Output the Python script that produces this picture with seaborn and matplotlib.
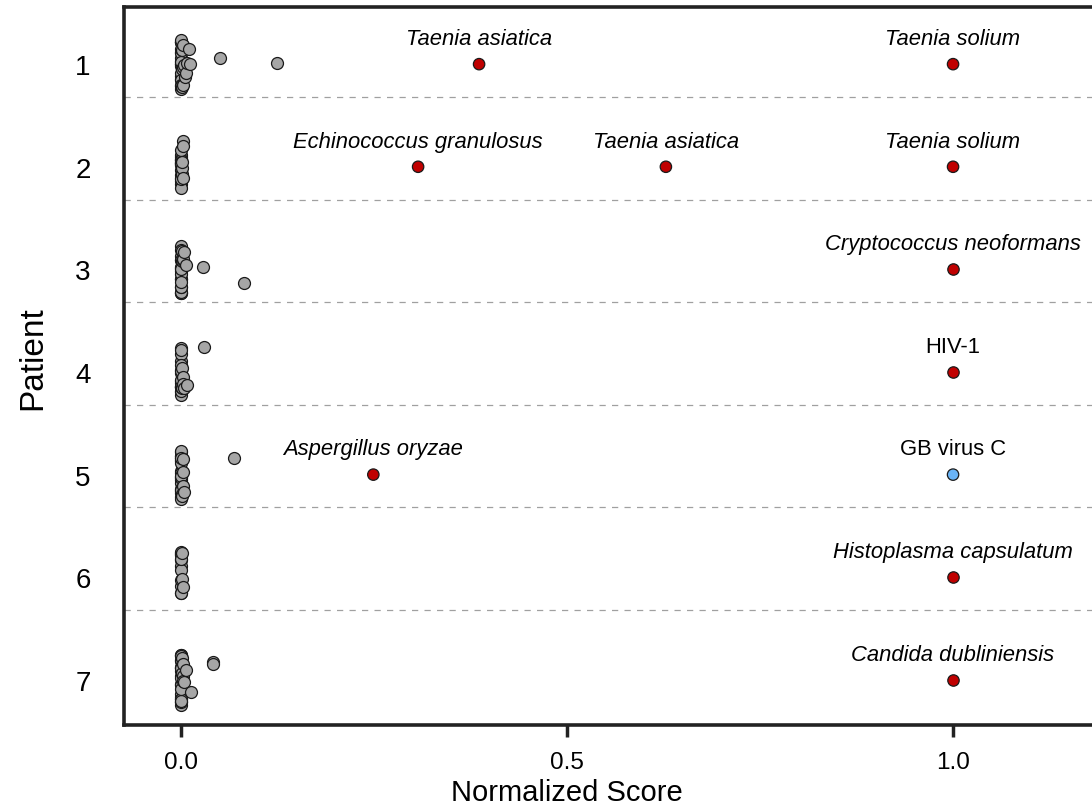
import numpy as np
import pandas as pd
import matplotlib
matplotlib.use("Agg")
import matplotlib.pyplot as plt
import seaborn as sns

# patients on the y axis
patients = ["1", "2", "3", "4", "5", "6", "7"]

# background (grey) scores per patient
bg_p1 = [0.0, 0.0, 0.0, 0.0, 0.0, 0.0, 0.0, 0.0, 0.0, 0.0, 0.0, 0.0, 0.0, 0.0, 0.0,
         0.0, 0.0, 0.0, 0.0, 0.0, 0.001, 0.001, 0.001, 0.002, 0.002, 0.003, 0.004,
         0.005, 0.006, 0.008, 0.010, 0.012, 0.050, 0.124]
bg_p2 = [0.0, 0.0, 0.0, 0.0, 0.0, 0.0, 0.0, 0.0, 0.0, 0.0, 0.0, 0.0, 0.0, 0.0, 0.0,
         0.0, 0.0, 0.0, 0.001, 0.001, 0.001, 0.002, 0.002, 0.003]
bg_p3 = [0.0, 0.0, 0.0, 0.0, 0.0, 0.0, 0.0, 0.0, 0.0, 0.0, 0.0, 0.0, 0.0, 0.0, 0.0,
         0.0, 0.0, 0.0, 0.001, 0.001, 0.002, 0.003, 0.004, 0.006, 0.028, 0.082]
bg_p4 = [0.0, 0.0, 0.0, 0.0, 0.0, 0.0, 0.0, 0.0, 0.0, 0.0, 0.0, 0.0, 0.0, 0.0, 0.0,
         0.0, 0.0, 0.0, 0.001, 0.001, 0.002, 0.003, 0.004, 0.008, 0.030]
bg_p5 = [0.0, 0.0, 0.0, 0.0, 0.0, 0.0, 0.0, 0.0, 0.0, 0.0, 0.0, 0.0, 0.0, 0.0, 0.0,
         0.0, 0.0, 0.0, 0.0, 0.0, 0.0, 0.0, 0.001, 0.001, 0.002, 0.002, 0.003,
         0.004, 0.069]
bg_p6 = [0.0, 0.0, 0.0, 0.0, 0.0, 0.0, 0.0, 0.0, 0.0, 0.0, 0.0, 0.0, 0.001, 0.001,
         0.002]
bg_p7 = [0.0, 0.0, 0.0, 0.0, 0.0, 0.0, 0.0, 0.0, 0.0, 0.0, 0.0, 0.0, 0.0, 0.0, 0.0,
         0.0, 0.0, 0.0, 0.0, 0.0, 0.0, 0.0, 0.001, 0.001, 0.002, 0.002, 0.003,
         0.004, 0.006, 0.013, 0.041, 0.041]
bg_scores = [bg_p1, bg_p2, bg_p3, bg_p4, bg_p5, bg_p6, bg_p7]

# highlighted hits
hit_patient = ["1", "1", "2", "2", "2", "3", "4", "5", "5", "6", "7"]
hit_score = [0.386, 1.0, 0.307, 0.628, 1.0, 1.0, 1.0, 0.249, 1.0, 1.0, 1.0]
hit_name = ["Taenia asiatica", "Taenia solium", "Echinococcus granulosus",
            "Taenia asiatica", "Taenia solium", "Cryptococcus neoformans",
            "HIV-1", "Aspergillus oryzae", "GB virus C",
            "Histoplasma capsulatum", "Candida dubliniensis"]
hit_kind = ["red", "red", "red", "red", "red", "red", "red", "red", "blue", "red", "red"]
hit_italic = [True, True, True, True, True, True, False, True, False, True, True]

bg = pd.DataFrame({
    "Patient": [p for p, vals in zip(patients, bg_scores) for _ in vals],
    "score": [v for vals in bg_scores for v in vals],
})
hits = pd.DataFrame({"Patient": hit_patient, "score": hit_score, "kind": hit_kind})

sns.set_style("white")
plt.rcParams["font.family"] = ["Liberation Sans", "DejaVu Sans"]

fig = plt.figure(figsize=(10.92, 8.12), dpi=100)
ax = fig.add_axes([124 / 1092, 1 - 726 / 812, 1 - 124 / 1092, (726 - 8) / 812])

# separators between patients
for i in range(len(patients) - 1):
    ax.axhline(i + 0.32, color="#a0a0a0", lw=0.9, ls=(0, (5, 5)), zorder=0)

np.random.seed(7)
sns.stripplot(data=bg, x="score", y="Patient", order=patients, jitter=0.25,
              color="#a6a6a6", edgecolor="#1a1a1a", linewidth=0.9, size=8.6,
              ax=ax, zorder=2)
sns.stripplot(data=hits, x="score", y="Patient", order=patients, hue="kind",
              palette={"red": "#c00000", "blue": "#6ab4f7"}, jitter=False,
              edgecolor="#1a1a1a", linewidth=0.9, size=8.2, legend=False,
              ax=ax, zorder=3)

for p, s, name, it in zip(hit_patient, hit_score, hit_name, hit_italic):
    ax.annotate(name, (s, patients.index(p)), xytext=(0, 18.5), textcoords="offset points",
                ha="center", va="center", fontsize=15.8,
                fontstyle="italic" if it else "normal", color="black")

ax.set_xlim(-0.074, 1.18)
ax.set_ylim(6.44, -0.557)
ax.set_xticks([0.0, 0.5, 1.0])
ax.set_xticklabels(["0.0", "0.5", "1.0"])
ax.tick_params(axis="x", length=8.5, width=2.5, color="#222222", labelsize=17.5,
               labelcolor="black", pad=10, bottom=True)
ax.tick_params(axis="y", length=0, labelsize=20, labelcolor="black", pad=24)
ax.set_xlabel("Normalized Score", fontsize=21, color="black")
ax.set_ylabel("Patient", fontsize=24, color="black")
ax.xaxis.set_label_coords((567 - 124) / (1092 - 124), -0.0745)
ax.yaxis.set_label_coords(-0.078, (726 - 358) / 718)

for side in ["left", "top", "bottom"]:
    ax.spines[side].set_linewidth(2.6)
    ax.spines[side].set_color("#222222")
ax.spines["right"].set_visible(False)

fig.savefig("out.png", dpi=100)
